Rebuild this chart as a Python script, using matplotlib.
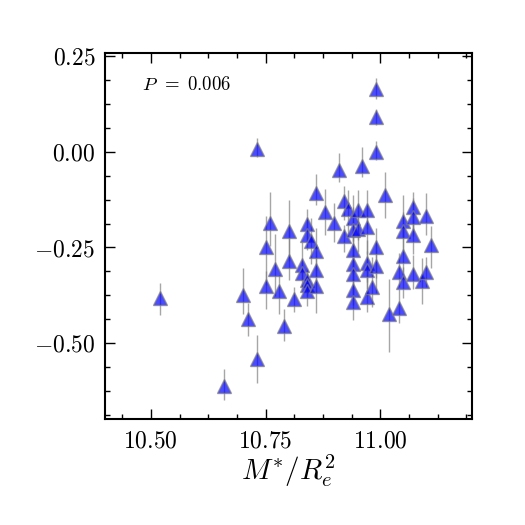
import matplotlib
matplotlib.use('Agg')
import matplotlib.pyplot as plt
from matplotlib.ticker import MultipleLocator, FormatStrFormatter

plt.rcParams['font.family'] = 'serif'
plt.rcParams['font.serif'] = ['cmr10']
plt.rcParams['mathtext.fontset'] = 'cm'
plt.rcParams['axes.formatter.use_mathtext'] = True

# stellar mass surface density vs. quantity
mass_density = [10.519, 10.660, 10.700, 10.711, 10.731, 10.731, 10.751, 10.751, 10.760, 10.771,
                10.780, 10.790, 10.801, 10.801, 10.811, 10.830, 10.830, 10.840, 10.840, 10.849,
                10.840, 10.840, 10.840, 10.860, 10.860, 10.860, 10.860, 10.880, 10.900, 10.910,
                10.920, 10.920, 10.929, 10.940, 10.940, 10.940, 10.940, 10.940, 10.940, 10.940,
                10.951, 10.951, 10.960, 10.971, 10.971, 10.971, 10.971, 10.971, 10.981, 10.991,
                10.991, 10.991, 10.991, 10.991, 11.011, 11.020, 11.041, 11.041, 11.050, 11.050,
                11.050, 11.050, 11.071, 11.071, 11.071, 11.071, 11.090, 11.100, 11.100, 11.110]
values = [-0.382, -0.612, -0.374, -0.436, -0.542, 0.006, -0.249, -0.350, -0.186, -0.306,
          -0.363, -0.455, -0.206, -0.286, -0.384, -0.295, -0.317, -0.189, -0.217, -0.232,
          -0.334, -0.347, -0.363, -0.108, -0.260, -0.308, -0.350, -0.157, -0.185, -0.048,
          -0.129, -0.221, -0.149, -0.173, -0.205, -0.256, -0.292, -0.318, -0.360, -0.393,
          -0.151, -0.203, -0.037, -0.151, -0.197, -0.291, -0.308, -0.378, -0.354, 0.162,
          0.090, -0.002, -0.250, -0.299, -0.113, -0.423, -0.408, -0.314, -0.182, -0.207,
          -0.273, -0.341, -0.145, -0.171, -0.218, -0.319, -0.337, -0.167, -0.314, -0.244]
err_lo = [0.045, 0.035, 0.05, 0.045, 0.06, 0.02, 0.10, 0.06, 0.06, 0.07,
          0.06, 0.04, 0.08, 0.05, 0.035, 0.04, 0.04, 0.04, 0.04, 0.06,
          0.03, 0.03, 0.04, 0.03, 0.05, 0.06, 0.07, 0.06, 0.05, 0.03,
          0.05, 0.04, 0.07, 0.06, 0.07, 0.06, 0.05, 0.05, 0.04, 0.045,
          0.08, 0.06, 0.03, 0.05, 0.07, 0.05, 0.05, 0.04, 0.05, 0.025,
          0.02, 0.02, 0.08, 0.07, 0.06, 0.10, 0.04, 0.04, 0.04, 0.05,
          0.05, 0.04, 0.06, 0.05, 0.05, 0.04, 0.06, 0.05, 0.04, 0.06]
err_hi = [0.04, 0.045, 0.07, 0.04, 0.065, 0.03, 0.08, 0.04, 0.08, 0.09,
          0.04, 0.045, 0.08, 0.09, 0.03, 0.06, 0.03, 0.04, 0.04, 0.06,
          0.03, 0.03, 0.03, 0.05, 0.06, 0.05, 0.05, 0.06, 0.05, 0.045,
          0.04, 0.03, 0.05, 0.06, 0.06, 0.05, 0.05, 0.05, 0.05, 0.04,
          0.05, 0.05, 0.05, 0.05, 0.05, 0.06, 0.05, 0.05, 0.08, 0.03,
          0.02, 0.03, 0.05, 0.06, 0.06, 0.09, 0.05, 0.05, 0.07, 0.05,
          0.07, 0.04, 0.04, 0.05, 0.06, 0.05, 0.06, 0.06, 0.04, 0.05]
p_value = 0.006

fig = plt.figure(figsize=(5.25, 5.25), dpi=100)
ax = fig.add_axes([0.2, 0.202, 0.699, 0.697])

ax.errorbar(mass_density, values, yerr=[err_lo, err_hi], fmt='^', color='blue',
            markersize=9.5, markeredgecolor='gray', markeredgewidth=1,
            ecolor='gray', elinewidth=1, capsize=0, alpha=0.7)

ax.set_xlim(10.40, 11.20)
ax.set_ylim(-0.697, 0.257)
ax.xaxis.set_major_locator(MultipleLocator(0.25))
ax.xaxis.set_minor_locator(MultipleLocator(0.0625))
ax.yaxis.set_major_locator(MultipleLocator(0.25))
ax.yaxis.set_minor_locator(MultipleLocator(0.0625))
ax.xaxis.set_major_formatter(FormatStrFormatter('$%.2f$'))
ax.yaxis.set_major_formatter(FormatStrFormatter('$%.2f$'))
ax.tick_params(which='both', direction='in', top=True, right=True, width=1)
ax.tick_params(which='major', length=7, labelsize=17)
ax.tick_params(which='minor', length=3.5)
ax.tick_params(axis='y', pad=7)
ax.tick_params(axis='x', pad=8)
for s in ax.spines.values():
    s.set_linewidth(1.5)

ax.set_xlabel(r'$M^{*}/R_e^2$', fontsize=21, labelpad=0)
ax.text(0.101, 0.9, r'$P\;\,=\;%.3f$' % p_value, transform=ax.transAxes,
        fontsize=13.5, va='baseline')

fig.savefig('out.png', dpi=100)
